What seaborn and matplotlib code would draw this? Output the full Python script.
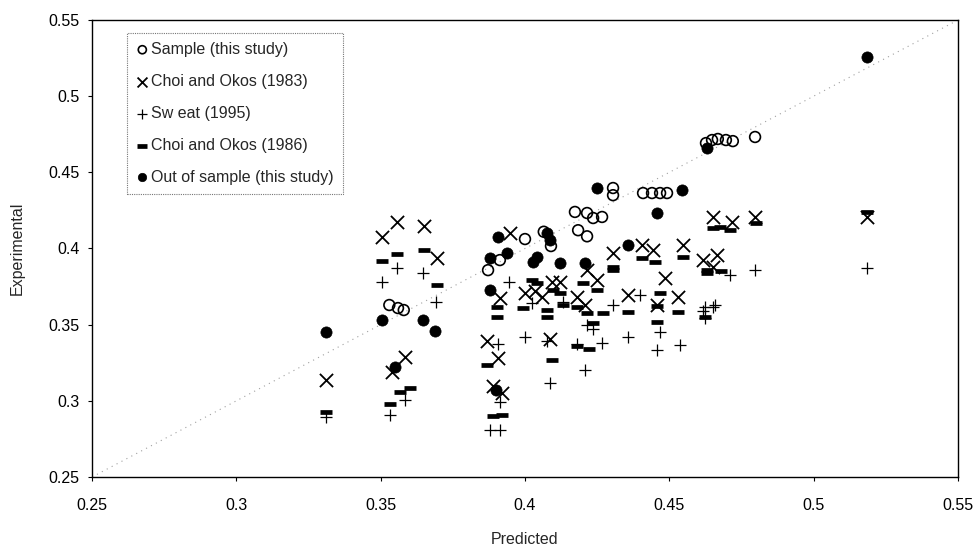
import matplotlib
matplotlib.use("Agg")
import matplotlib.pyplot as plt
import seaborn as sns
import pandas as pd

# ---- data ----
sample_x = [0.353, 0.356, 0.358, 0.3872, 0.3913, 0.400, 0.409, 0.4065, 0.4173, 0.4215, 0.4236,
            0.4267, 0.4184, 0.4215, 0.4305, 0.4305, 0.4409, 0.444, 0.4468, 0.4492, 0.4627,
            0.4648, 0.4668, 0.4696, 0.472, 0.4797]
sample_y = [0.3629, 0.3609, 0.3596, 0.3858, 0.3924, 0.4062, 0.4016, 0.411, 0.424, 0.4233, 0.420,
            0.4207, 0.412, 0.408, 0.4397, 0.435, 0.4364, 0.4364, 0.4364, 0.4364, 0.4692,
            0.4712, 0.4719, 0.4712, 0.4705, 0.4732]

choi83_x = [0.331, 0.3505, 0.3557, 0.3649, 0.3695, 0.3584, 0.354, 0.387, 0.3906, 0.389, 0.392,
            0.3948, 0.4087, 0.3913, 0.400, 0.4059, 0.4094, 0.412, 0.4215, 0.418, 0.4208,
            0.4405, 0.4444, 0.4547, 0.4305, 0.4651, 0.4617, 0.4485, 0.4457, 0.4357, 0.453,
            0.425, 0.4717, 0.4797, 0.4665, 0.5185, 0.465, 0.4035]
choi83_y = [0.3136, 0.4075, 0.4174, 0.4147, 0.3937, 0.3287, 0.3189, 0.339, 0.328, 0.31, 0.305,
            0.4101, 0.3406, 0.3675, 0.3708, 0.3681, 0.378, 0.378, 0.3858, 0.3681, 0.3629,
            0.4023, 0.399, 0.4023, 0.397, 0.421, 0.3924, 0.3806, 0.3629, 0.3694, 0.3681,
            0.3793, 0.4174, 0.4207, 0.3957, 0.4207, 0.388, 0.3720]

sweat_x = [0.331, 0.3505, 0.3557, 0.3647, 0.369, 0.3584, 0.3533, 0.3906, 0.388, 0.3913, 0.3945,
           0.400, 0.4077, 0.4087, 0.4208, 0.418, 0.4024, 0.4215, 0.4398, 0.4305, 0.4357,
           0.4267, 0.4457, 0.4537, 0.4468, 0.4624, 0.4651, 0.4624, 0.4617, 0.4658, 0.471,
           0.4797, 0.5185, 0.3913, 0.4236, 0.4132]
sweat_y = [0.2894, 0.378, 0.3872, 0.3839, 0.3648, 0.3005, 0.2906, 0.3373, 0.2808, 0.2808, 0.378,
           0.3419, 0.339, 0.3117, 0.3202, 0.337, 0.3642, 0.3497, 0.3694, 0.3629, 0.3419,
           0.3379, 0.3333, 0.3366, 0.345, 0.3616, 0.3616, 0.3543, 0.359, 0.3629, 0.3826,
           0.3858, 0.3872, 0.299, 0.347, 0.3650]

choi86_x = [0.331, 0.3505, 0.3557, 0.365, 0.3695, 0.3567, 0.3533, 0.3868, 0.389, 0.392, 0.4094,
            0.418, 0.422, 0.3903, 0.3903, 0.4024, 0.404, 0.4097, 0.412, 0.3993, 0.4077,
            0.4077, 0.4132, 0.42, 0.418, 0.4215, 0.4405, 0.445, 0.4547, 0.4305, 0.4305,
            0.4651, 0.463, 0.4468, 0.4357, 0.453, 0.427, 0.425, 0.4457, 0.4236, 0.4624,
            0.4675, 0.471, 0.48, 0.463, 0.468, 0.5185, 0.3600, 0.4457]
choi86_y = [0.2926, 0.3918, 0.3964, 0.399, 0.376, 0.3057, 0.2979, 0.3235, 0.29, 0.2906, 0.3268,
            0.336, 0.334, 0.3616, 0.355, 0.3793, 0.3773, 0.3727, 0.3708, 0.3609, 0.3596,
            0.355, 0.3629, 0.3773, 0.3616, 0.3576, 0.3937, 0.391, 0.3944, 0.3878, 0.386,
            0.4135, 0.3839, 0.3708, 0.3583, 0.3583, 0.3576, 0.3727, 0.3517, 0.351, 0.355,
            0.4141, 0.4121, 0.4167, 0.3858, 0.385, 0.424, 0.3085, 0.3620]

oos_x = [0.331, 0.3505, 0.3647, 0.3688, 0.355, 0.390, 0.3906, 0.3879, 0.3938, 0.3879, 0.4028,
         0.4042, 0.4077, 0.4087, 0.4121, 0.4208, 0.4357, 0.425, 0.4457, 0.4544, 0.463, 0.5185]
oos_y = [0.3455, 0.353, 0.353, 0.3458, 0.322, 0.307, 0.4075, 0.3937, 0.397, 0.3727, 0.3911,
         0.3944, 0.4101, 0.4056, 0.3904, 0.3904, 0.4023, 0.4397, 0.4233, 0.4384, 0.466, 0.5257]

labels = ["Sample (this study)", "Choi and Okos (1983)", "Sw eat (1995)",
          "Choi and Okos (1986)", "Out of sample (this study)"]
ticks = [0.25, 0.3, 0.35, 0.4, 0.45, 0.5, 0.55]
ticklabels = ["0.25", "0.3", "0.35", "0.4", "0.45", "0.5", "0.55"]

# ---- figure ----
sns.set_theme(style="white")
plt.rcParams['font.family'] = ['Liberation Sans', 'DejaVu Sans']

fig = plt.figure(figsize=(9.73, 5.52), dpi=100)
ax = fig.add_axes([92/973, 75/552, 866/973, 457/552])

# diagonal reference line
ax.plot([0.25, 0.55], [0.25, 0.55], linestyle=(0, (1, 4)), color="#a0a0a0", lw=0.8, zorder=1)

sns.scatterplot(x=sample_x, y=sample_y, ax=ax, marker="o", s=60,
                facecolor="none", edgecolor="black", linewidth=1.2, label=labels[0], zorder=3)
sns.scatterplot(x=choi83_x, y=choi83_y, ax=ax, marker="x", s=90,
                color="black", linewidth=1.3, label=labels[1], zorder=3)
sns.scatterplot(x=sweat_x, y=sweat_y, ax=ax, marker="+", s=85,
                color="black", linewidth=0.9, label=labels[2], zorder=3)
sns.scatterplot(x=choi86_x, y=choi86_y, ax=ax, marker="_", s=85,
                color="black", linewidth=3.4, label=labels[3], zorder=3)
sns.scatterplot(x=oos_x, y=oos_y, ax=ax, marker="o", s=65,
                color="black", edgecolor="black", linewidth=0.5, label=labels[4], zorder=4)

ax.set_xlim(0.25, 0.55)
ax.set_ylim(0.25, 0.55)
ax.set_xticks(ticks)
ax.set_xticklabels(ticklabels)
ax.set_yticks(ticks)
ax.set_yticklabels(ticklabels)
ax.tick_params(axis="both", direction="out", length=3, width=0.8, colors="black",
               labelsize=11.5, bottom=True, left=True)
ax.tick_params(axis="x", pad=12)
ax.tick_params(axis="y", pad=6)
for sp in ax.spines.values():
    sp.set_color("black")
    sp.set_linewidth(1.0)
ax.set_xlabel("Predicted", fontsize=11.5)
ax.set_ylabel("Experimental", fontsize=11.5)
ax.xaxis.set_label_coords(0.5, -0.12)
ax.yaxis.set_label_coords(-0.078, 0.5)

leg = ax.legend(loc="upper left", bbox_to_anchor=(0.0404, 0.9716), frameon=True,
                fontsize=11.5, handletextpad=0.15, borderpad=0.56, labelspacing=1.06,
                handlelength=0.8, markerscale=0.75, fancybox=False, borderaxespad=0)
frame = leg.get_frame()
frame.set_edgecolor("#555555")
frame.set_linestyle((0, (1, 1)))
frame.set_linewidth(0.8)

fig.savefig("out.png", dpi=100)
